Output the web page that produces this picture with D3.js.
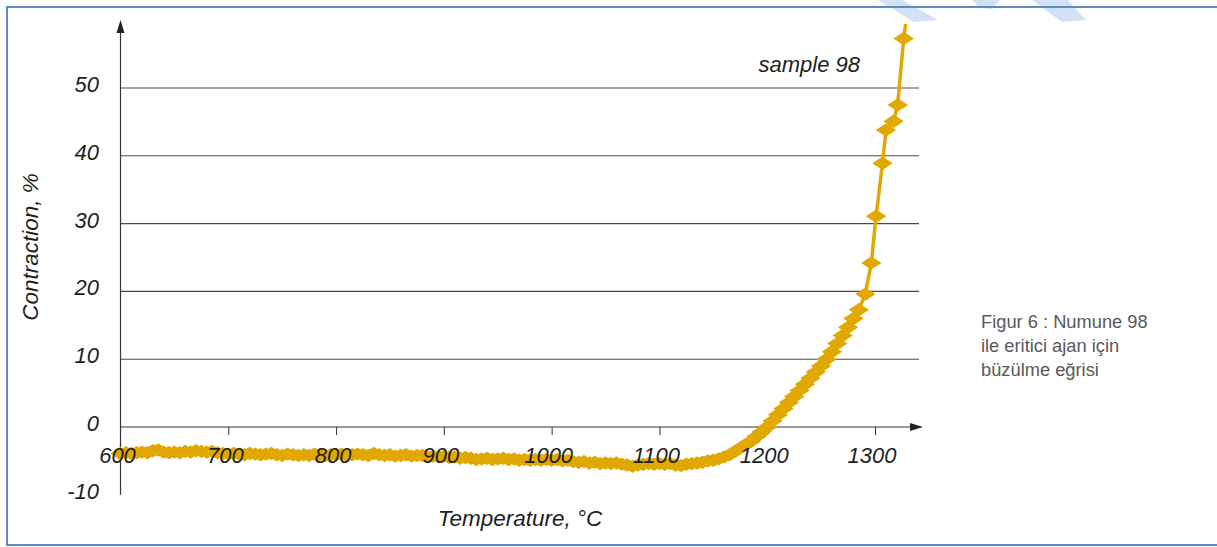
<!DOCTYPE html>
<html>
<head>
<meta charset="utf-8">
<script src="https://cdn.jsdelivr.net/npm/d3@7"></script>
<style>
  body { margin: 0; background: #fff; }
  svg { display: block; }
  .lbl { font-family: "Liberation Sans", Arial, sans-serif; font-style: italic; fill: #1e1e1e; }
  .cap { font-family: "Liberation Sans", Arial, sans-serif; fill: #595959; }
</style>
</head>
<body>
<svg id="chart" width="1217" height="547"></svg>
<script>
// temperature (°C) every 5 degrees, 600 .. 1285
var temps = d3.range(600, 1290, 5)
// contraction (%)
var contraction = [
  -3.9, -3.8, -3.9, -3.8, -3.7, -3.8, -3.5, -3.4, -3.7, -3.8,
  -3.7, -3.8, -3.6, -3.7, -3.5, -3.6, -3.7, -3.6, -3.8, -3.9,
  -4.0, -3.9, -4.0, -4.1, -3.9, -4.0, -4.1, -4.0, -3.9, -4.1,
  -4.2, -4.0, -4.1, -4.2, -4.1, -4.2, -4.0, -4.1, -4.2, -4.1,
  -4.1, -4.0, -4.2, -4.1, -4.0, -4.1, -4.2, -3.9, -4.1, -4.2,
  -4.1, -4.3, -4.2, -4.1, -4.3, -4.2, -4.2, -4.4, -4.3, -4.4,
  -4.3, -4.5, -4.4, -4.6, -4.5, -4.6, -4.8, -4.7, -4.6, -4.8,
  -4.7, -4.6, -4.8, -4.7, -4.9, -4.8, -4.9, -4.8, -4.9, -4.8,
  -4.9, -4.8, -5.0, -4.9, -5.1, -5.2, -5.1, -5.3, -5.2, -5.4,
  -5.3, -5.4, -5.3, -5.5, -5.6, -5.8, -5.6, -5.5, -5.4, -5.5,
  -5.4, -5.5, -5.4, -5.6, -5.7, -5.5, -5.4, -5.3, -5.2, -5.0,
  -4.9, -4.7, -4.4, -4.1, -3.6, -3.1, -2.6, -2.1, -1.4, -0.7,
   0.0,  0.9,  1.8,  2.7,  3.6,  4.5,  5.4,  6.3,  7.2,  8.1,
   9.0, 10.0, 11.1, 12.3, 13.5, 14.7, 16.0, 17.3
]
// steep part, separate points
var steepTemps = [1291, 1296.6, 1301, 1307, 1310.2, 1317.3, 1321, 1326.6, 1331]
var steepVals  = [19.6, 24.2, 31.1, 38.9, 43.8, 45.1, 47.5, 57.3, 62.5]

var xTicks = [600, 700, 800, 900, 1000, 1100, 1200, 1300]
var yTicks = [-10, 0, 10, 20, 30, 40, 50]
var gridVals = [10, 20, 30, 40, 50]
var captionLines = ['Figur 6 : Numune 98', 'ile eritici ajan için', 'büzülme eğrisi']

var points = temps.map((t, i) => ({t: t, v: contraction[i]}))
steepTemps.forEach((t, i) => points.push({t: t, v: steepVals[i]}))

var svg = d3.select('#chart')
var gold = '#e0a800'

var x = d3.scaleLinear().domain([600, 1300]).range([120.5, 875])
var y = d3.scaleLinear().domain([-10, 60]).range([494.8, 20.2])

// watermark bits top right
var wm = svg.append('g').attr('fill', '#d3e1f4')
wm.append('path').attr('d', 'M878,0 L902,0 L938,20 L914,22 Z')
wm.append('path').attr('d', 'M972,0 L1000,0 L992,9 L980,8 Z')
wm.append('path').attr('d', 'M1032,0 L1068,0 L1086,20 L1062,22 Z')

// frame
svg.append('rect')
    .attr('x', 7).attr('y', 7)
    .attr('width', 1230).attr('height', 538)
    .attr('fill', 'none')
    .attr('stroke', '#5b8bc9')
    .attr('stroke-width', 2)

// gridlines
svg.append('g').selectAll('line')
    .data(gridVals)
    .enter().append('line')
    .attr('x1', x(600)).attr('x2', 919)
    .attr('y1', d => y(d)).attr('y2', d => y(d))
    .attr('stroke', '#4a4a4a')
    .attr('stroke-width', 1.1)

// x axis with ticks below
var xAxis = svg.append('g')
    .attr('transform', 'translate(0,' + y(0) + ')')
    .call(d3.axisBottom(x).tickValues(xTicks.slice(1)).tickSize(8).tickFormat('').tickSizeOuter(0))
xAxis.select('.domain').remove()
xAxis.selectAll('line').attr('stroke', '#333')
svg.append('line')
    .attr('x1', x(600)).attr('x2', 912)
    .attr('y1', y(0)).attr('y2', y(0))
    .attr('stroke', '#333').attr('stroke-width', 1.2)
svg.append('path')
    .attr('d', 'M910,' + (y(0) - 4) + ' L923,' + y(0) + ' L910,' + (y(0) + 4) + ' Z')
    .attr('fill', '#222')

// y axis
svg.append('line')
    .attr('x1', x(600)).attr('x2', x(600))
    .attr('y1', y(-10)).attr('y2', 30)
    .attr('stroke', '#333').attr('stroke-width', 1.2)
svg.append('path')
    .attr('d', 'M' + (x(600) - 4) + ',33 L' + x(600) + ',20 L' + (x(600) + 4) + ',33 Z')
    .attr('fill', '#222')

// data
svg.append('clipPath').attr('id', 'clip')
    .append('rect').attr('x', 0).attr('y', 24).attr('width', 1217).attr('height', 520)

var plot = svg.append('g').attr('clip-path', 'url(#clip)')

var line = d3.line().x(d => x(d.t)).y(d => y(d.v))
plot.append('path')
    .datum(points)
    .attr('d', line)
    .attr('fill', 'none')
    .attr('stroke', gold)
    .attr('stroke-width', 3.5)

var diamond = d3.symbol().type(d3.symbolDiamond).size(100)
plot.selectAll('.mk')
    .data(points)
    .enter().append('path')
    .attr('class', 'mk')
    .attr('d', diamond)
    .attr('transform', d => 'translate(' + x(d.t) + ',' + y(d.v) + ') scale(1.9,0.72)')
    .attr('fill', gold)

// tick labels
svg.append('g').selectAll('text')
    .data(xTicks)
    .enter().append('text')
    .attr('class', 'lbl')
    .attr('x', d => x(d) - 3)
    .attr('y', 463)
    .attr('text-anchor', 'middle')
    .attr('font-size', 22)
    .text(d => d)

svg.append('g').selectAll('text')
    .data(yTicks)
    .enter().append('text')
    .attr('class', 'lbl')
    .attr('x', 99)
    .attr('y', d => y(d) + 4)
    .attr('text-anchor', 'end')
    .attr('font-size', 22)
    .text(d => d)

// axis titles
svg.append('text')
    .attr('class', 'lbl')
    .attr('transform', 'translate(38,247) rotate(-90)')
    .attr('text-anchor', 'middle')
    .attr('font-size', 22.5)
    .text('Contraction, %')

svg.append('text')
    .attr('class', 'lbl')
    .attr('x', 520).attr('y', 526)
    .attr('text-anchor', 'middle')
    .attr('font-size', 22.5)
    .text('Temperature, °C')

svg.append('text')
    .attr('class', 'lbl')
    .attr('x', 860).attr('y', 72)
    .attr('text-anchor', 'end')
    .attr('font-size', 22)
    .text('sample 98')

// caption
svg.append('g').selectAll('text')
    .data(captionLines)
    .enter().append('text')
    .attr('class', 'cap')
    .attr('x', 981)
    .attr('y', (d, i) => 328 + i * 24)
    .attr('font-size', 18.3)
    .text(d => d)
</script>
</body>
</html>
